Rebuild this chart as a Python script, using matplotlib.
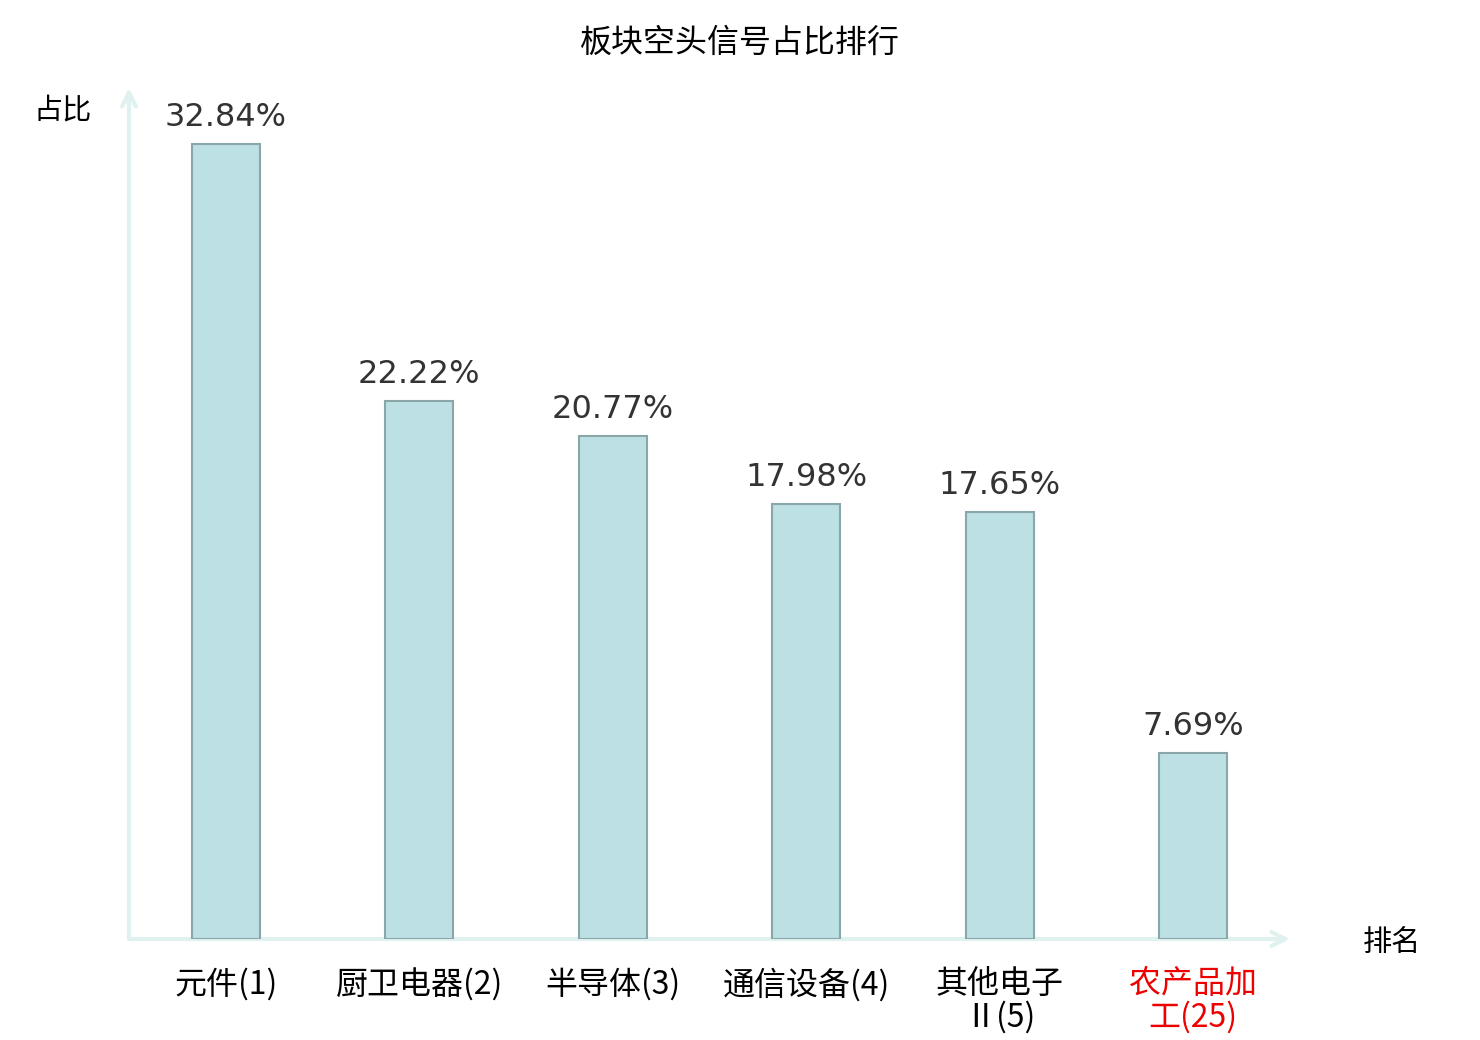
import matplotlib
matplotlib.use("Agg")
import matplotlib.pyplot as plt

categories = ["元件(1)", "厨卫电器(2)", "半导体(3)", "通信设备(4)", "其他电子\nⅡ(5)", "农产品加\n工(25)"]
values = [32.84, 22.22, 20.77, 17.98, 17.65, 7.69]
value_labels = ["32.84%", "22.22%", "20.77%", "17.98%", "17.65%", "7.69%"]
label_colors = ["#000000", "#000000", "#000000", "#000000", "#000000", "#ee0000"]
title = "板块空头信号占比排行"
y_name = "占比"
x_name = "排名"

CJK = ["Noto Sans CJK SC", "DejaVu Sans"]

fig = plt.figure(figsize=(14.8, 10.4), dpi=100)
ax = fig.add_axes([129/1480, (1040-939)/1040, (1290-129)/1480, (939-88)/1040])
x = list(range(len(values)))
ax.bar(x, values, width=0.35, color="#bce0e3", edgecolor="#8aa6a8", linewidth=1.5, zorder=2)
ax.set_xlim(-0.5, 5.5)
ax.set_ylim(0, 35.17)
for s in ax.spines.values():
    s.set_visible(False)
ax.set_yticks([])
ax.set_xticks(x)
ax.set_xticklabels(categories, fontfamily=CJK, fontsize=23, linespacing=1.02)
for t, c in zip(ax.get_xticklabels(), label_colors):
    t.set_color(c)
ax.tick_params(axis="x", length=0, pad=21)

for xi, v, lab in zip(x, values, value_labels):
    ax.annotate(lab, (xi, v), xytext=(0, 8), textcoords="offset points",
                ha="center", va="bottom", fontsize=23, color="#333333",
                fontfamily="DejaVu Sans")

axis_col = "#dff2ef"
ax.annotate("", xy=(1.0, 0), xytext=(0, 0), xycoords="axes fraction",
            arrowprops=dict(arrowstyle="->,head_length=1.0,head_width=0.5", color=axis_col, lw=3,
                            shrinkA=0, shrinkB=0), zorder=1)
ax.annotate("", xy=(0, 1.0), xytext=(0, 0), xycoords="axes fraction",
            arrowprops=dict(arrowstyle="->,head_length=1.0,head_width=0.5", color=axis_col, lw=3,
                            shrinkA=0, shrinkB=0), zorder=1)

fig.text(740/1480, 1 - 43/1040, title, ha="center", va="center", fontsize=23, fontfamily=CJK, color="#000000")
fig.text(63/1480, 1 - 110/1040, y_name, ha="center", va="center", fontsize=21, fontfamily=CJK, color="#000000")
fig.text(1392/1480, 1 - 943/1040, x_name, ha="center", va="center", fontsize=21, fontfamily=CJK, color="#000000")

fig.savefig("out.png", dpi=100, facecolor="white")
